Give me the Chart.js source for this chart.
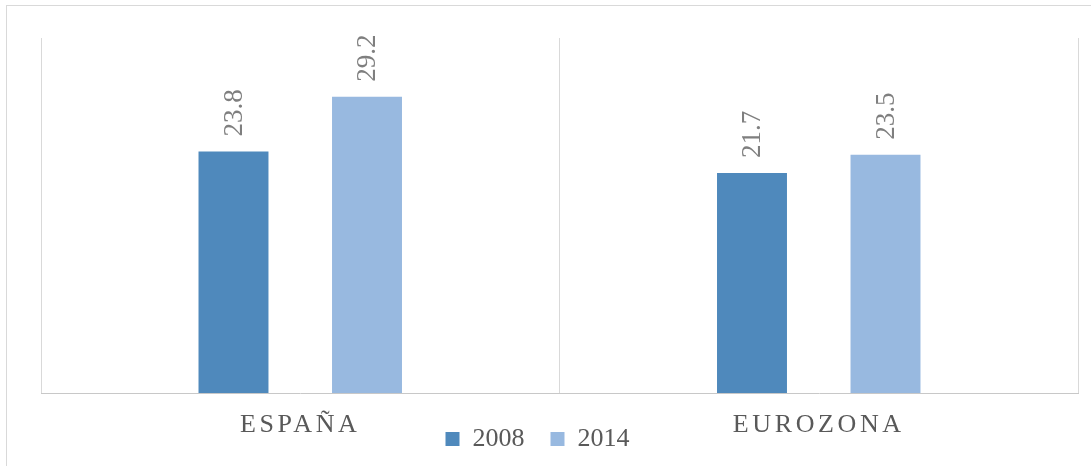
<!DOCTYPE html>
<html>
<head>
<meta charset="utf-8">
<script src="https://cdn.jsdelivr.net/npm/chart.js@4.4.1/dist/chart.umd.min.js"></script>
<style>
  html, body { margin: 0; padding: 0; background: #fff; overflow: hidden; }
  #frame { position: absolute; left: 6px; top: 5px; width: 2000px; height: 1000px; border: 1px solid #d9d9d9; }
  #wrap { position: absolute; left: 0; top: 0; width: 1091px; height: 466px; }
</style>
</head>
<body>
<div id="frame"></div>
<div id="wrap"><canvas id="barChart" width="1091" height="466"></canvas></div>
<script>
// categorias y series
const categories = ['ESPAÑA', 'EUROZONA'];
const seriesNames = ['2008', '2014'];
const values2008 = [23.8, 21.7];
const values2014 = [29.2, 23.5];
const yMax = 35;

const serif = '"Liberation Serif", "Times New Roman", serif';

// etiquetas de valor giradas sobre cada barra
const valueLabels = {
    id: 'valueLabels',
    afterDatasetsDraw(chart) {
        const ctx = chart.ctx;
        chart.data.datasets.forEach((ds, i) => {
            const meta = chart.getDatasetMeta(i);
            meta.data.forEach((bar, j) => {
                ctx.save();
                ctx.translate(bar.x + 1, bar.y - 15);
                ctx.rotate(-Math.PI / 2);
                ctx.font = '27px ' + serif;
                ctx.fillStyle = '#7f7f7f';
                ctx.textAlign = 'left';
                ctx.textBaseline = 'middle';
                ctx.fillText(ds.data[j].toFixed(1), 0, 0);
                ctx.restore();
            });
        });
    }
};

// espaciado de letras en las categorias, sin recorte, y leyenda algo a la izquierda
const tweaks = {
    id: 'tweaks',
    afterLayout(chart) {
        const s = chart.scales.x;
        if (!s._spaced) {
            const orig = s.drawLabels.bind(s);
            s._computeLabelArea = () => undefined;
            s.drawLabels = function (area) {
                chart.ctx.save();
                chart.ctx.letterSpacing = '3.6px';
                orig(area);
                chart.ctx.restore();
            };
            s._spaced = true;
        }
        chart.legend.left -= 22;
        chart.legend.right -= 22;
    }
};

const ctx = document.getElementById('barChart');
new Chart(ctx, {
    type: 'bar',
    data: {
        labels: categories,
        datasets: [
            {
                label: seriesNames[0],
                data: values2008,
                backgroundColor: '#4f89bc',
                borderWidth: 0,
                categoryPercentage: 0.515,
                barPercentage: 0.524
            },
            {
                label: seriesNames[1],
                data: values2014,
                backgroundColor: '#98b9e0',
                borderWidth: 0,
                categoryPercentage: 0.515,
                barPercentage: 0.524
            }
        ]
    },
    plugins: [valueLabels, tweaks],
    options: {
        responsive: false,
        animation: false,
        layout: {
            padding: { left: 41, right: 13, top: 38, bottom: 4 }
        },
        plugins: {
            tooltip: { enabled: false },
            legend: {
                position: 'bottom',
                labels: {
                    boxWidth: 14,
                    boxHeight: 14,
                    padding: 26,
                    color: '#595959',
                    font: { family: serif, size: 26 }
                }
            }
        },
        scales: {
            x: {
                afterFit(scale) { scale.height = 7; },
                grid: {
                    offset: true,
                    color: '#d9d9d9',
                    drawTicks: false
                },
                border: { color: '#c8c8c8' },
                ticks: {
                    padding: 17,
                    color: '#595959',
                    font: { family: serif, size: 26 }
                }
            },
            y: {
                display: false,
                min: 0,
                max: yMax
            }
        }
    }
});
</script>
</body>
</html>
